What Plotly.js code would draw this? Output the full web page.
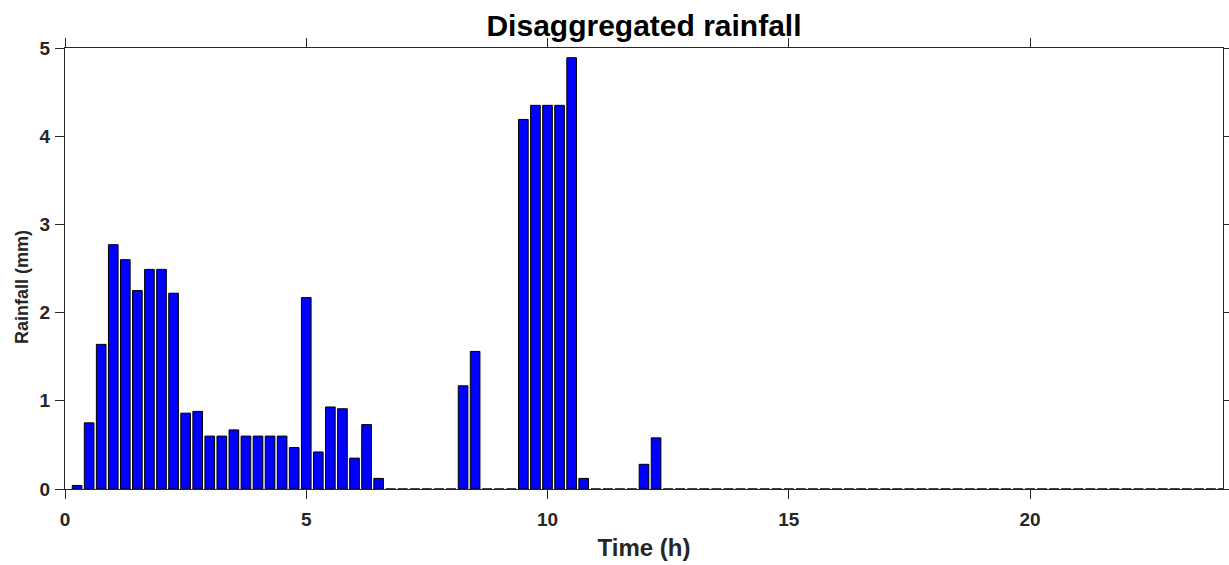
<!DOCTYPE html>
<html>
<head>
<meta charset="utf-8">
<script src="https://cdn.plot.ly/plotly-3.0.1.min.js"></script>
<style>html,body{margin:0;padding:0;background:#fff;}#chart{width:1229px;height:565px;}</style>
</head>
<body>
<div id="chart"></div>
<script>
// Time (h), 15-minute steps
var timeHours = [
  0.25, 0.5, 0.75, 1.0, 1.25, 1.5, 1.75, 2.0, 2.25, 2.5, 2.75, 3.0,
  3.25, 3.5, 3.75, 4.0, 4.25, 4.5, 4.75, 5.0, 5.25, 5.5, 5.75, 6.0,
  6.25, 6.5, 6.75, 7.0, 7.25, 7.5, 7.75, 8.0, 8.25, 8.5, 8.75, 9.0,
  9.25, 9.5, 9.75, 10.0, 10.25, 10.5, 10.75, 11.0, 11.25, 11.5, 11.75, 12.0,
  12.25, 12.5, 12.75, 13.0, 13.25, 13.5, 13.75, 14.0, 14.25, 14.5, 14.75, 15.0,
  15.25, 15.5, 15.75, 16.0, 16.25, 16.5, 16.75, 17.0, 17.25, 17.5, 17.75, 18.0,
  18.25, 18.5, 18.75, 19.0, 19.25, 19.5, 19.75, 20.0, 20.25, 20.5, 20.75, 21.0,
  21.25, 21.5, 21.75, 22.0, 22.25, 22.5, 22.75, 23.0, 23.25, 23.5, 23.75, 24.0
];
// Rainfall (mm)
var rainfallMm = [
  0.04, 0.75, 1.64, 2.77, 2.60, 2.25, 2.49, 2.49, 2.22, 0.86, 0.88, 0.60,
  0.60, 0.67, 0.60, 0.60, 0.60, 0.60, 0.47, 2.17, 0.42, 0.93, 0.91, 0.35,
  0.73, 0.12, 0, 0, 0, 0, 0, 0, 1.17, 1.56, 0, 0,
  0, 4.19, 4.35, 4.35, 4.35, 4.89, 0.12, 0, 0, 0, 0, 0.28,
  0.58, 0, 0, 0, 0, 0, 0, 0, 0, 0, 0, 0,
  0, 0, 0, 0, 0, 0, 0, 0, 0, 0, 0, 0,
  0, 0, 0, 0, 0, 0, 0, 0, 0, 0, 0, 0,
  0, 0, 0, 0, 0, 0, 0, 0, 0, 0, 0, 0
];
var xTicks = [0, 5, 10, 15, 20];
var yTicks = [0, 1, 2, 3, 4, 5];

var FONT = 'Liberation Sans, Arial, Helvetica, sans-serif';
var INK = '#262626';

var trace = {
  type: 'bar',
  x: timeHours,
  y: rainfallMm,
  width: 0.2,
  marker: {color: '#0000ff', line: {color: '#000000', width: 1}},
  hoverinfo: 'x+y'
};

var axisCommon = {
  showgrid: false,
  zeroline: false,
  showline: true,
  linecolor: INK,
  linewidth: 1,
  mirror: 'allticks',
  ticks: 'outside',
  ticklen: 9,
  tickwidth: 1,
  tickcolor: INK,
  tickfont: {family: FONT, size: 19, color: INK, weight: 'bold'},
  automargin: false
};

var layout = {
  width: 1229,
  height: 565,
  paper_bgcolor: '#ffffff',
  plot_bgcolor: '#ffffff',
  margin: {l: 65, r: 6, t: 48, b: 76},
  showlegend: false,
  bargap: 0,
  title: {
    text: '<b>Disaggregated rainfall</b>',
    font: {family: FONT, size: 30, color: '#000000'},
    x: 0.5, xref: 'paper', xanchor: 'center',
    y: 1 - 25 / 565, yref: 'container', yanchor: 'middle'
  },
  xaxis: Object.assign({}, axisCommon, {
    range: [0, 24],
    tickmode: 'array',
    tickvals: xTicks,
    ticktext: xTicks.map(String),
    ticklabelstandoff: 4,
    title: {text: '<b>Time (h)</b>', font: {family: FONT, size: 24, color: INK}, standoff: 10}
  }),
  yaxis: Object.assign({}, axisCommon, {
    range: [0, 5],
    tickmode: 'array',
    tickvals: yTicks,
    ticktext: yTicks.map(String),
    ticklabelstandoff: 1
  }),
  annotations: [{
    text: '<b>Rainfall (mm)</b>',
    textangle: -90,
    font: {family: FONT, size: 18, color: INK},
    xref: 'paper', yref: 'paper',
    x: -43 / 1158, xanchor: 'center',
    y: (489 - 287) / 441, yanchor: 'middle',
    showarrow: false
  }]
};

Plotly.newPlot('chart', [trace], layout, {displayModeBar: false, staticPlot: true});
</script>
</body>
</html>
